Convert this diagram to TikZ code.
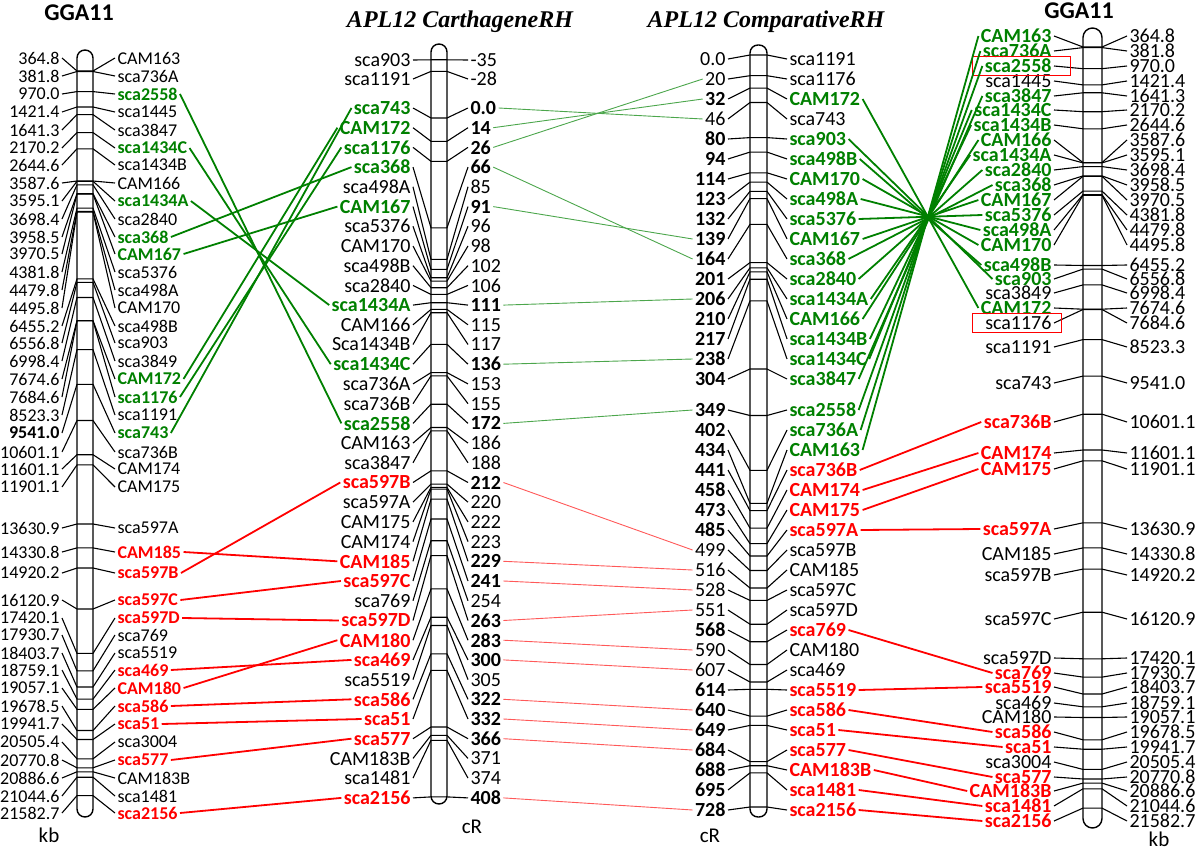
\documentclass[tikz,border=0pt]{standalone}
\usepackage{fontspec}
\setmainfont{Carlito}
\newfontfamily\serifttl{Liberation Serif}
\definecolor{mygreen}{RGB}{0,128,0}
\definecolor{myred}{RGB}{255,0,0}
\begin{document}
\begin{tikzpicture}[x=1pt,y=-1pt,
  lab/.style={inner sep=0pt, outer sep=2.5pt},
  f1/.style={lab, font=\fontsize{18}{18}\selectfont},
  f2/.style={lab, font=\fontsize{20}{20}\selectfont},
  f3/.style={lab, font=\fontsize{20}{20}\selectfont},
  f4/.style={lab, font=\fontsize{20}{20}\selectfont},
  st-n/.style={text=black},
  st-g/.style={text=mygreen, execute at begin node=\bfseries},
  st-r/.style={text=myred, execute at begin node=\bfseries},
  num-n/.style={},
  num-b/.style={execute at begin node=\bfseries},
  num-g/.style={execute at begin node=\bfseries},
  num-r/.style={execute at begin node=\bfseries},
  tick/.style={line width=1.1pt, black},
  chrom/.style={line width=1.4pt, black},
  link/.style={line width=1.8pt},
  thinlink/.style={line width=0.9pt},
  ttl/.style={inner sep=0pt, font=\fontsize{24}{24}\selectfont\bfseries},
  ttlserif/.style={inner sep=0pt, font=\fontsize{24}{24}\selectfont\serifttl\bfseries\itshape},
  unit/.style={inner sep=0pt, font=\fontsize{21}{21}\selectfont}
]
\useasboundingbox (0,0) rectangle (1200,851);

% titles
\node[ttl] (t1) at (79,13) {GGA11};
\node[ttlserif] (t2) at (460,22) {APL12 CarthageneRH};
\node[ttlserif] (t3) at (766,22) {APL12 ComparativeRH};
\node[ttl] (t4) at (1079,11) {GGA11};

% ---------- column 1 (GGA11, kb)
\draw[chrom, rounded corners=8pt] (77,50) rectangle (93,817);
\foreach \nv/\ly/\band/\nm/\st/\ns in {
364.8/58/71.0/CAM163/n/n,
381.8/76/71.5/sca736A/n/n,
970.0/94/91.6/sca2558/g/n,
1421.4/112/107.0/sca1445/n/n,
1641.3/130/114.6/sca3847/n/n,
2170.2/148/132.6/sca1434C/g/n,
2644.6/165/148.8/sca1434B/n/n,
3587.6/183/181.0/CAM166/n/n,
3595.1/201/181.3/sca1434A/g/n,
3698.4/219/184.8/sca2840/n/n,
3958.5/237/193.7/sca368/g/n,
3970.5/254/194.1/CAM167/g/n,
4381.8/272/208.1/sca5376/n/n,
4479.8/290/211.5/sca498A/n/n,
4495.8/308/212.0/CAM170/n/n,
6455.2/326/278.9/sca498B/n/n,
6556.8/343/282.4/sca903/n/n,
6998.4/361/297.5/sca3849/n/n,
7674.6/379/320.6/CAM172/g/n,
7684.6/397/320.9/sca1176/g/n,
8523.3/415/349.6/sca1191/n/n,
9541.0/433/384.3/sca743/g/b,
10601.1/452/420.5/sca736B/n/n,
11601.1/469/454.7/CAM174/n/n,
11901.1/487/464.9/CAM175/n/n,
13630.9/528/524.0/sca597A/n/n,
14330.8/552/547.9/CAM185/r/n,
14920.2/573/568.0/sca597B/r/n,
16120.9/600/609.0/sca597C/r/n,
17420.1/618/653.4/sca597D/r/n,
17930.7/635/670.8/sca769/n/n,
18403.7/653/687.0/sca5519/n/n,
18759.1/670/699.1/sca469/r/n,
19057.1/688/709.3/CAM180/r/n,
19678.5/706/730.5/sca586/r/n,
19941.7/724/739.5/sca51/r/n,
20505.4/742/758.8/sca3004/n/n,
20770.8/760/767.8/sca577/r/n,
20886.6/778/771.8/CAM183B/n/n,
21044.6/796/777.2/sca1481/n/n,
21582.7/813/795.6/sca2156/r/n}{
  \node[f1, anchor=east, num-\ns] (A-n-\nm) at (62,\ly) {\nv};
  \node[f1, anchor=west, st-\st] (A-\nm) at (115,\ly) {\nm};
  \draw[tick] (A-n-\nm.east) -- (77,\band) -- (93,\band) -- (A-\nm.west);
}
\node[unit] (u1) at (49,835) {kb};

% ---------- column 2 (CarthageneRH)
\draw[chrom, rounded corners=8pt] (431,44) rectangle (447,804);
\foreach \cv/\ly/\band/\nm/\st in {
-35/60/59.8/sca903/n,
-28/79/71.4/sca1191/n,
0.0/108/118.0/sca743/g,
14/127.7/141.3/CAM172/g,
26/147.4/161.3/sca1176/g,
66/167.1/227.8/sca368/g,
85/186.8/259.4/sca498A/n,
91/206.6/269.4/CAM167/g,
96/226.3/277.7/sca5376/n,
98/246/281.1/CAM170/n,
102/265.7/287.7/sca498B/n,
106/285.4/294.4/sca2840/n,
111/305.1/302.7/sca1434A/g,
115/324.8/309.4/CAM166/n,
117/344.5/312.7/Sca1434B/n,
136/364.2/344.3/sca1434C/g,
153/383.9/372.6/sca736A/n,
155/403.7/375.9/sca736B/n,
172/423.4/404.2/sca2558/g,
186/443.1/427.5/CAM163/n,
188/462.8/430.8/sca3847/n,
212/482.5/470.8/sca597B/r,
220/502.2/484.1/sca597A/n,
222/521.9/487.4/CAM175/n,
223/541.6/489.1/CAM174/n,
229/561.3/499.1/CAM185/r,
241/581/519.0/sca597C/r,
254/600.8/540.7/sca769/n,
263/620.5/555.6/sca597D/r,
283/640.2/588.9/CAM180/r,
300/659.9/617.2/sca469/r,
305/679.6/625.5/sca5519/n,
322/699.3/653.8/sca586/r,
332/719/670.4/sca51/r,
366/738.7/727.0/sca577/r,
371/758.4/735.3/CAM183B/n,
374/778.1/740.3/sca1481/n,
408/797.9/796.9/sca2156/r}{
  \node[f2, anchor=east, st-\st] (B-\nm) at (413,\ly) {\nm};
  \node[f2, anchor=west, num-\st] (Bn-\nm) at (468,\ly) {\cv};
  \draw[tick] (B-\nm.east) -- (431,\band) -- (447,\band) -- (Bn-\nm.west);
}
\node[unit] (u2) at (472,827) {cR};

% ---------- column 3 (ComparativeRH)
\draw[chrom, rounded corners=8pt] (750,45) rectangle (767,817);
\foreach \cv/\ly/\band/\nm/\st in {
0.0/59/55.0/sca1191/n,
20/79/75.7/sca1176/n,
32/99/88.1/CAM172/g,
46/119/102.5/sca743/n,
80/139/137.6/sca903/g,
94/159/152.1/sca498B/g,
114/179/172.8/CAM170/g,
123/199/182.1/sca498A/g,
132/219/191.4/sca5376/g,
139/239/198.6/CAM167/g,
164/259/224.4/sca368/g,
201/279/262.6/sca2840/g,
206/299/267.8/sca1434A/g,
210/319/271.9/CAM166/g,
217/339/279.2/sca1434B/g,
238/359/300.9/sca1434C/g,
304/379/369.0/sca3847/g,
349/410/415.5/sca2558/g,
402/430/470.3/sca736A/g,
434/450/503.3/CAM163/g,
441/470/510.6/sca736B/r,
458/490/528.1/CAM174/r,
473/510/543.6/CAM175/r,
485/530/556.0/sca597A/r,
499/550/570.5/sca597B/n,
516/570/588.0/CAM185/n,
528/590/600.4/sca597C/n,
551/610/624.2/sca597D/n,
568/630/641.7/sca769/r,
590/650/664.5/CAM180/n,
607/670/682.0/sca469/n,
614/690/689.3/sca5519/r,
640/710/716.1/sca586/r,
649/730/725.4/sca51/r,
684/750/761.6/sca577/r,
688/770/765.7/CAM183B/r,
695/790/772.9/sca1481/r,
728/810/807.0/sca2156/r}{
  \node[f3, anchor=east, num-\st] (Cn-\nm) at (728,\ly) {\cv};
  \node[f3, anchor=west, st-\st] (C-\nm) at (787,\ly) {\nm};
  \draw[tick] (Cn-\nm.east) -- (750,\band) -- (767,\band) -- (C-\nm.west);
}
\node[unit] (u3) at (710,836) {cR};

% ---------- column 4 (GGA11, kb)
\draw[chrom, rounded corners=9.5pt] (1083,28) rectangle (1102,828);
\foreach \nv/\ly/\band/\nm/\st in {
364.8/36/47.0/CAM163/g,
381.8/51/47.6/sca736A/g,
970.0/66/68.7/sca2558/g,
1421.4/81/84.9/sca1445/n,
1641.3/96/92.8/sca3847/g,
2170.2/110/111.7/sca1434C/g,
2644.6/125/128.8/sca1434B/g,
3587.6/140/162.6/CAM166/g,
3595.1/155/162.9/sca1434A/g,
3698.4/170/166.6/sca2840/g,
3958.5/185/175.9/sca368/g,
3970.5/200/176.3/CAM167/g,
4381.8/215/191.1/sca5376/g,
4479.8/230/194.6/sca498A/g,
4495.8/245/195.2/CAM170/g,
6455.2/265/265.5/sca498B/g,
6556.8/279/269.1/sca903/g,
6998.4/293/284.9/sca3849/n,
7674.6/308/309.2/CAM172/g,
7684.6/323/309.5/sca1176/n,
8523.3/347/339.6/sca1191/n,
9541.0/383/376.1/sca743/n,
10601.1/422/414.2/sca736B/r,
11601.1/453/450.0/CAM174/r,
11901.1/469/460.8/CAM175/r,
13630.9/529/522.8/sca597A/r,
14330.8/554/547.9/CAM185/n,
14920.2/575/569.1/sca597B/n,
16120.9/619/612.2/sca597C/n,
17420.1/658/658.8/sca597D/n,
17930.7/673/677.1/sca769/r,
18403.7/687/694.0/sca5519/r,
18759.1/703/706.8/sca469/n,
19057.1/717/717.5/CAM180/n,
19678.5/732/739.8/sca586/r,
19941.7/747/749.2/sca51/r,
20505.4/762/769.4/sca3004/n,
20770.8/777/779.0/sca577/r,
20886.6/791/783.1/CAM183B/r,
21044.6/806/788.8/sca1481/r,
21582.7/821/808.1/sca2156/r}{
  \node[f4, anchor=east, st-\st] (D-\nm) at (1054,\ly) {\nm};
  \node[f4, anchor=west] (Dn-\nm) at (1127,\ly) {\nv};
  \draw[tick] (D-\nm.east) -- (1083,\band) -- (1102,\band) -- (Dn-\nm.west);
}
\node[unit] (u4) at (1159,839) {kb};

% red boxes
\draw[myred, line width=0.8pt] (972,56) rectangle (1070,75);
\draw[myred, line width=0.8pt] (972,313) rectangle (1061,332);

% ---------- links col1 -> col2
\foreach \m in {sca2558,sca1434C,sca1434A,sca368,CAM167,CAM172,sca1176,sca743}
  \draw[link, mygreen] (A-\m.east) -- (B-\m.west);
\foreach \m in {CAM185,sca597B,sca597C,sca597D,sca469,CAM180,sca586,sca51,sca577,sca2156}
  \draw[link, myred] (A-\m.east) -- (B-\m.west);

% ---------- links col2 -> col3
\foreach \m in {sca743,CAM172,sca1176,sca368,CAM167,sca1434A,sca1434C,sca2558}
  \draw[thinlink, mygreen!70] (Bn-\m.east) -- (Cn-\m.west);
\foreach \m in {sca597B,CAM185,sca597C,sca597D,CAM180,sca469,sca586,sca51,sca577,sca2156}
  \draw[thinlink, myred!65] (Bn-\m.east) -- (Cn-\m.west);

% ---------- links col3 -> col4
\foreach \m in {CAM172,sca903,sca498B,CAM170,sca498A,sca5376,CAM167,sca368,sca2840,sca1434A,CAM166,sca1434B,sca1434C,sca3847,sca2558,sca736A,CAM163}
  \draw[link, mygreen] (C-\m.east) -- (D-\m.west);
\foreach \m in {sca736B,CAM174,CAM175,sca597A,sca769,sca5519,sca586,sca51,sca577,CAM183B,sca1481,sca2156}
  \draw[link, myred] (C-\m.east) -- (D-\m.west);
\end{tikzpicture}
\end{document}
